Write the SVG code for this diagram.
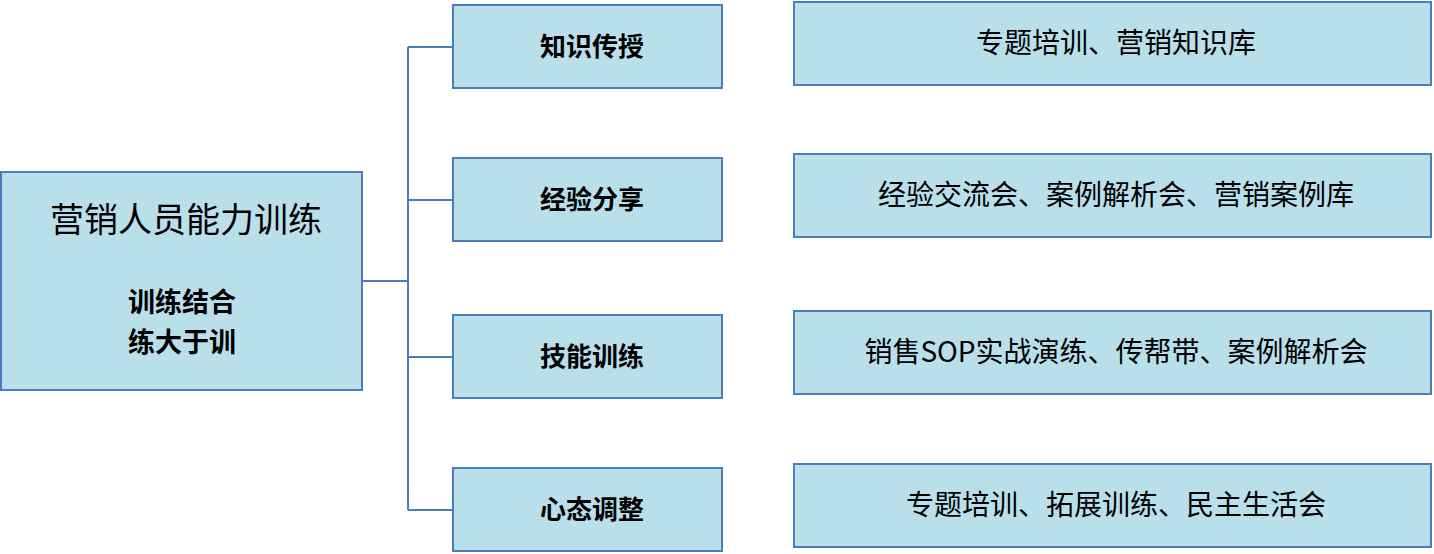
<svg xmlns="http://www.w3.org/2000/svg" width="1434" height="554" viewBox="0 0 1434 554">
<style>
.b{fill:#b8dfea;stroke:#4a7ebb;stroke-width:2}
.c{fill:none;stroke:#4a7ebb;stroke-width:2}
text{font-family:"Noto Sans CJK SC","Liberation Sans",sans-serif;fill:#000;text-anchor:middle}
.m{font-size:26px;font-weight:bold}
.r{font-size:28px}
</style>
<rect width="1434" height="554" fill="#fff"/>
<g id="root"><rect class="b" x="1" y="172" width="361" height="218"/>
<text x="186" y="232" font-size="34">营销人员能力训练</text>
<text x="182" y="312" font-size="27" font-weight="bold">训练结合</text>
<text x="182" y="352" font-size="27" font-weight="bold">练大于训</text></g>
<g id="m1"><rect class="b" x="453" y="5" width="269" height="83"/><text class="m" x="592" y="56">知识传授</text></g>
<g id="m2"><rect class="b" x="453" y="158" width="269" height="83"/><text class="m" x="592" y="209">经验分享</text></g>
<g id="m3"><rect class="b" x="453" y="315" width="269" height="83"/><text class="m" x="592" y="366">技能训练</text></g>
<g id="m4"><rect class="b" x="453" y="468" width="269" height="83"/><text class="m" x="592" y="519">心态调整</text></g>
<g id="r1"><rect class="b" x="794" y="2" width="637" height="83"/><text class="r" x="1116" y="53">专题培训、营销知识库</text></g>
<g id="r2"><rect class="b" x="794" y="154" width="637" height="83"/><text class="r" x="1116" y="205">经验交流会、案例解析会、营销案例库</text></g>
<g id="r3"><rect class="b" x="794" y="311" width="637" height="83"/><text class="r" x="1116" y="362">销售SOP实战演练、传帮带、案例解析会</text></g>
<g id="r4"><rect class="b" x="794" y="464" width="637" height="83"/><text class="r" x="1116" y="515">专题培训、拓展训练、民主生活会</text></g>
<g id="connectors">
<path class="c" d="M362 281H408M408 47V510M408 47H453M408 200H453M408 357H453M408 510H453"/>
</g>
</svg>
